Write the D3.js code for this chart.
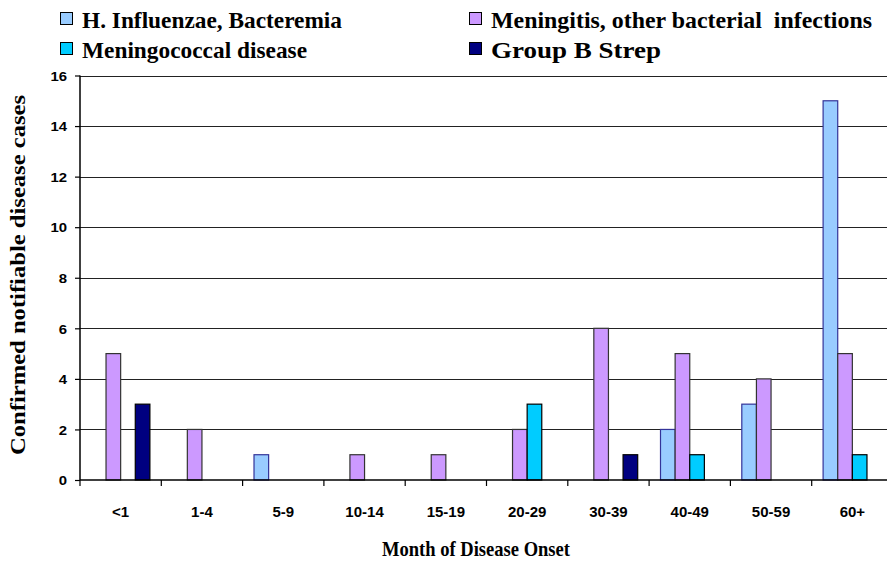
<!DOCTYPE html>
<html><head><meta charset="utf-8">
<script src="https://cdn.jsdelivr.net/npm/d3@7"></script>
<style>body{margin:0;background:#fff}svg{display:block}</style>
</head><body>
<svg id="c" width="887" height="564"></svg>
<script>
const categories = ["<1","1-4","5-9","10-14","15-19","20-29","30-39","40-49","50-59","60+"];
const seriesNames = ["H. Influenzae, Bacteremia","Meningitis, other bacterial  infections","Meningococcal disease","Group B Strep"];
const hInfluenzae   = [0,0,1,0,0,0,0,2,3,15];
const meningitis    = [5,2,0,1,1,2,6,5,4,5];
const meningococcal = [0,0,0,0,0,3,0,1,0,1];
const groupBStrep   = [3,0,0,0,0,0,1,0,0,0];
const yTicks = [0,2,4,6,8,10,12,14,16];

const seriesValues = [hInfluenzae, meningitis, meningococcal, groupBStrep];
const fills = ["#99CCFF","#CC99FF","#00CCFF","#000080"];
const strokes = ["#333399","#333333","#000000","#000000"];
const serif = "'Liberation Serif', 'Times New Roman', serif";
const sans = "'Liberation Sans', Arial, sans-serif";

const svg = d3.select("#c");
const x = d3.scaleBand().domain(categories).range([80, 893]).padding(0);
const xs = d3.scaleBand().domain(d3.range(4)).range([0, x.bandwidth()]).paddingInner(0).paddingOuter(0.78);
const y = d3.scaleLinear().domain([0,16]).range([480, 75.5]);

// gridlines
svg.append("g").selectAll("line").data(yTicks.filter(d=>d>0)).join("line")
  .attr("x1",80).attr("x2",887).attr("y1",d=>Math.round(y(d))+0.5).attr("y2",d=>Math.round(y(d))+0.5)
  .attr("stroke","#222").attr("stroke-width",1.2);

// bars
const rows = [];
seriesValues.forEach((vals,si)=>vals.forEach((v,ci)=>{ if(v>0) rows.push({si,ci,v}); }));
svg.append("g").selectAll("rect").data(rows).join("rect")
  .attr("x",d=>x(categories[d.ci])+xs(d.si))
  .attr("y",d=>y(d.v))
  .attr("width",xs.bandwidth())
  .attr("height",d=>y(0)-y(d.v))
  .attr("fill",d=>fills[d.si])
  .attr("stroke",d=>strokes[d.si]).attr("stroke-width",1.2);

// y axis
const yAxis = d3.axisLeft(y).tickValues(yTicks).tickSize(5).tickPadding(0);
const gy = svg.append("g").attr("transform","translate(80,0)").call(yAxis);
gy.select(".domain").attr("stroke","#000").attr("stroke-width",1.5).attr("d","M0,75.5V480");
gy.selectAll(".tick line").attr("stroke","#000").attr("stroke-width",1.2);
gy.selectAll(".tick text").attr("font-family",sans)
  .attr("font-weight","bold").attr("font-size","13px").attr("fill","#000").attr("dy","0.36em")
  .attr("x",-13)
  .attr("textLength",d=>String(d).length*8.3).attr("lengthAdjust","spacingAndGlyphs");

// x axis
const xAxis = d3.axisBottom(x).tickSize(0).tickPadding(0);
const gx = svg.append("g").attr("transform","translate(0,480)").call(xAxis);
gx.select(".domain").attr("stroke","#000").attr("stroke-width",1.5).attr("d","M80,0H887");
gx.selectAll(".tick text").attr("font-family",sans)
  .attr("font-weight","bold").attr("font-size","15px").attr("fill","#000").attr("y",37).attr("dy",0);
// boundary ticks
svg.append("g").selectAll("line").data(categories).join("line")
  .attr("x1",d=>x(d)).attr("x2",d=>x(d)).attr("y1",480).attr("y2",486)
  .attr("stroke","#000").attr("stroke-width",1.2);

// titles
svg.append("text").attr("x",476).attr("y",556).attr("text-anchor","middle")
  .attr("font-family",serif).attr("font-weight","bold")
  .attr("font-size","21px").attr("textLength",188).attr("lengthAdjust","spacingAndGlyphs")
  .text("Month of Disease Onset");
svg.append("text").attr("transform","translate(25,275) rotate(-90)").attr("text-anchor","middle")
  .attr("font-family",serif).attr("font-weight","bold")
  .attr("font-size","21px").attr("textLength",360).attr("lengthAdjust","spacingAndGlyphs")
  .text("Confirmed notifiable disease cases");

// legend
const legendPos = [[60,12],[469,12],[60,42],[469,42]];
const legendLen = [260,381,225,170];
const lg = svg.append("g").selectAll("g").data(seriesNames).join("g")
  .attr("transform",(d,i)=>`translate(${legendPos[i][0]},${legendPos[i][1]})`);
lg.append("rect").attr("x",0.5).attr("y",0.5).attr("width",12).attr("height",12)
  .attr("fill",(d,i)=>fills[i]).attr("stroke","#000").attr("stroke-width",1);
lg.append("text").attr("x",22).attr("y",15.5)
  .attr("font-family",serif).attr("font-weight","bold")
  .attr("font-size","23px").attr("textLength",(d,i)=>legendLen[i]).attr("lengthAdjust","spacingAndGlyphs")
  .style("white-space","pre").text(d=>d);
</script>
</body></html>
